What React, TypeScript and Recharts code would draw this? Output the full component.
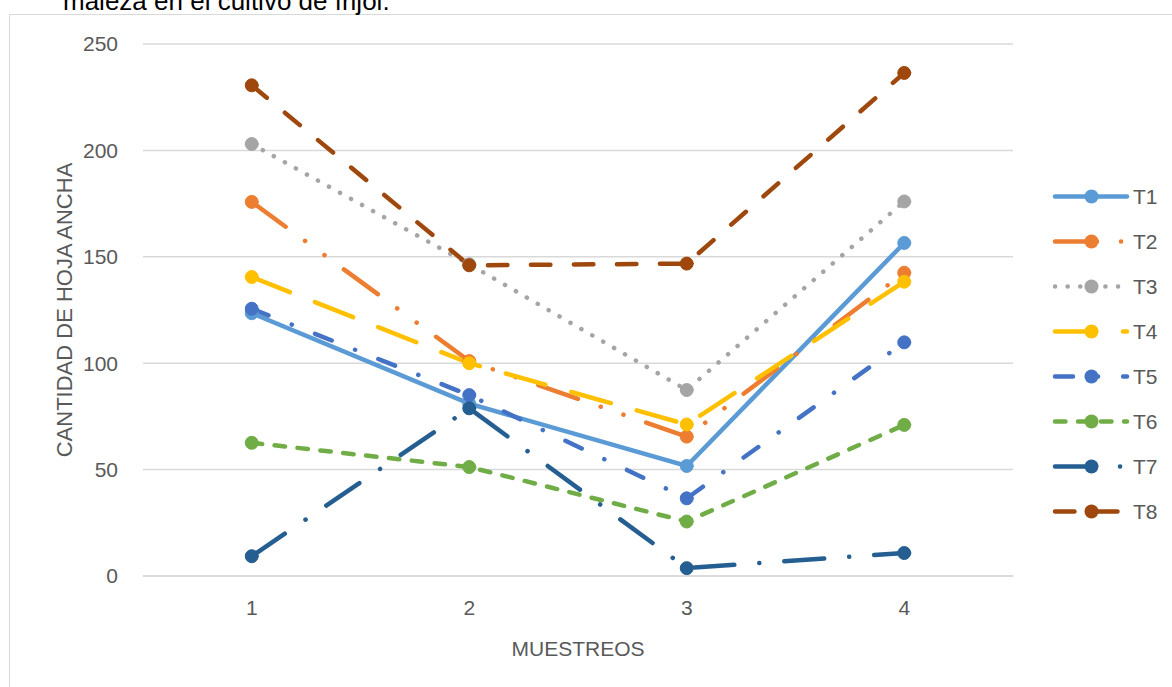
import React from 'react';
import { LineChart, Line, XAxis, YAxis, CartesianGrid, Legend } from 'recharts';

// Sampling rounds (MUESTREOS)
const categories = ['1', '2', '3', '4'];

// Broadleaf weed counts per treatment
const t1 = [123.5, 81, 51.7, 156.5];
const t2 = [175.8, 101, 65.5, 142.5];
const t3 = [203, 146.5, 87.4, 176];
const t4 = [140.5, 100, 71.2, 138.3];
const t5 = [125.6, 85, 36.5, 109.8];
const t6 = [62.6, 51.2, 25.6, 71];
const t7 = [9.3, 78.8, 3.7, 10.8];
const t8 = [230.6, 146, 146.8, 236.4];

const yTicks = [0, 50, 100, 150, 200, 250];

const seriesNames = ['T1', 'T2', 'T3', 'T4', 'T5', 'T6', 'T7', 'T8'];
const seriesValues = [t1, t2, t3, t4, t5, t6, t7, t8];
const seriesColors = ['#5B9BD5', '#ED7D31', '#A5A5A5', '#FFC000', '#4472C4', '#70AD47', '#255E91', '#9E480E'];
const seriesDashes = [
  undefined,
  '42 24 0.1 24 0.1 24',
  '0.1 12.5',
  '41 27',
  '18 25 0.1 25',
  '10.5 12.5',
  '40 25 0.1 25',
  '19.5 23.5',
];

const data = categories.map((m, i) => {
  const row: Record<string, string | number> = { m };
  seriesNames.forEach((name, s) => {
    row[name] = seriesValues[s][i];
  });
  return row;
});

const FONT = '"Liberation Sans", Arial, sans-serif';
const TEXT = '#595959';
const LINE_W = 4.5;

const renderLegend = () => (
  <div style={{ width: 132 }}>
    {seriesNames.map((name, i) => (
      <svg key={name} width={132} height={45} style={{ display: 'block' }}>
        <line
          x1={15}
          x2={87}
          y1={22.5}
          y2={22.5}
          stroke={seriesColors[i]}
          strokeWidth={LINE_W}
          strokeLinecap="round"
          strokeDasharray={seriesDashes[i]}
        />
        <circle cx={51.5} cy={22.5} r={7} fill={seriesColors[i]} />
        <text x={93} y={22.5} dy="0.355em" fill={TEXT} fontSize={21} fontFamily={FONT}>
          {name}
        </text>
      </svg>
    ))}
  </div>
);

export default function App() {
  return (
    <div
      style={{
        position: 'absolute',
        left: 0,
        top: 0,
        width: 1172,
        height: 687,
        overflow: 'hidden',
        background: '#fff',
      }}
    >
      <div
        style={{
          position: 'absolute',
          left: 9,
          top: 14,
          width: 1200,
          height: 700,
          border: '1.5px solid #d9d9d9',
          boxSizing: 'border-box',
        }}
      />
      <svg style={{ position: 'absolute', left: 0, top: 0 }} width={600} height={20}>
        <text x={63} y={10} fill="#000" fontSize={26} fontFamily={FONT}>
          maleza en el cultivo de frijol.
        </text>
      </svg>
      <div style={{ position: 'absolute', left: 0, top: 0 }}>
        <LineChart
          width={1172}
          height={687}
          data={data}
          margin={{ top: 44, right: 159, bottom: 0, left: 0 }}
        >
          <CartesianGrid vertical={false} stroke="#d9d9d9" strokeWidth={1.5} />
          <XAxis
            dataKey="m"
            height={111}
            padding={{ left: 108.75, right: 108.75 }}
            axisLine={{ stroke: '#d9d9d9', strokeWidth: 1.5 }}
            tickLine={false}
            tickSize={0}
            tickMargin={24}
            tick={{ fill: TEXT, fontSize: 21, fontFamily: FONT }}
            label={{
              value: 'MUESTREOS',
              position: 'insideBottom',
              offset: 31,
              fill: TEXT,
              fontSize: 21,
              fontFamily: FONT,
            }}
          />
          <YAxis
            width={143}
            domain={[0, 250]}
            ticks={yTicks}
            axisLine={false}
            tickLine={false}
            tickSize={0}
            tickMargin={25}
            tick={{ fill: TEXT, fontSize: 21, fontFamily: FONT }}
            label={{
              value: 'CANTIDAD DE HOJA ANCHA',
              angle: -90,
              position: 'insideLeft',
              offset: 64,
              fill: TEXT,
              fontSize: 22,
              fontFamily: FONT,
              style: { textAnchor: 'middle' },
            }}
          />
          <Legend
            layout="vertical"
            align="center"
            verticalAlign="middle"
            content={renderLegend}
            wrapperStyle={{ position: 'absolute', left: 1040, top: 174, right: 'auto', bottom: 'auto', width: 132 }}
          />
          {seriesNames.map((name, i) => (
            <Line
              key={name}
              type="linear"
              dataKey={name}
              stroke={seriesColors[i]}
              strokeWidth={LINE_W}
              strokeDasharray={seriesDashes[i]}
              strokeLinecap="round"
              dot={{ r: 6.5, fill: seriesColors[i], stroke: seriesColors[i], strokeWidth: 1, strokeDasharray: 'none' }}
              activeDot={false}
              isAnimationActive={false}
            />
          ))}
        </LineChart>
      </div>
    </div>
  );
}
